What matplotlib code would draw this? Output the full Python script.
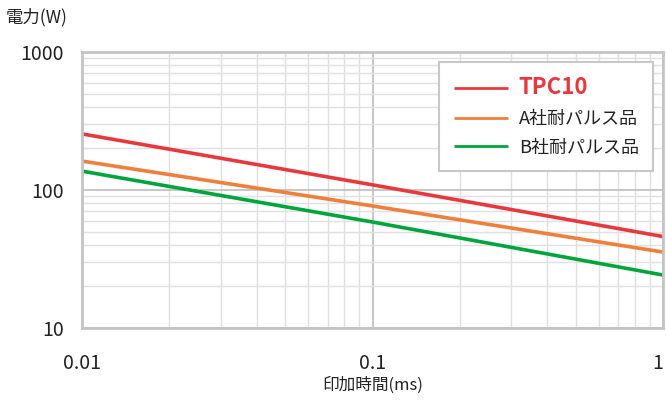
import matplotlib
matplotlib.use("Agg")
import matplotlib.pyplot as plt
from matplotlib.ticker import FixedLocator, NullFormatter, LogLocator

plt.rcParams['font.family'] = ['Noto Sans CJK JP', 'DejaVu Sans']

# datos
t_ms = [0.01, 0.1, 1]
p_tpc10 = [255, 109, 46]
p_a = [162, 76.6, 35.5]
p_b = [137, 58.6, 24.2]

nombres = ["TPC10", "A社耐パルス品", "B社耐パルス品"]
colores = ["#e8383d", "#f07f3c", "#00a63c"]

fig = plt.figure(figsize=(6.66, 4), dpi=100)
ax = fig.add_axes([82/666, 72/400, 581/666, 276/400])

for y, nom, c in zip([p_tpc10, p_a, p_b], nombres, colores):
    ax.plot(t_ms, y, color=c, lw=2.6, label=nom, solid_capstyle="butt")

ax.set_xscale("log")
ax.set_yscale("log")
ax.set_xlim(0.01, 1)
ax.set_ylim(10, 1000)

#### grilla
ax.xaxis.set_major_locator(FixedLocator([0.01, 0.1, 1]))
ax.yaxis.set_major_locator(FixedLocator([10, 100, 1000]))
ax.xaxis.set_minor_locator(LogLocator(base=10, subs=range(2, 10)))
ax.yaxis.set_minor_locator(LogLocator(base=10, subs=range(2, 10)))
ax.xaxis.set_minor_formatter(NullFormatter())
ax.yaxis.set_minor_formatter(NullFormatter())
ax.set_xticklabels(["0.01", "0.1", "1"])
ax.set_yticklabels(["10", "100", "1000"])
ax.get_xticklabels()[-1].set_horizontalalignment("right")
ax.grid(True, which="minor", color="#e0e0e0", lw=1)
ax.grid(True, which="major", color="#bdbdbd", lw=1.2)
ax.set_axisbelow(True)
ax.tick_params(which="both", length=0)
ax.tick_params(axis="x", pad=18, labelsize=14, colors="#222222")
ax.tick_params(axis="y", pad=13, labelsize=14, colors="#222222")
for s in ax.spines.values():
    s.set_color("#c4c4c4")
    s.set_linewidth(2)

ax.set_xlabel("印加時間(ms)", fontsize=12, color="#222222", labelpad=2)
fig.text(6/666, 1 - 17/400, "電力(W)", fontsize=12.5, color="#222222", va="center")

leg = ax.legend(loc="upper right", bbox_to_anchor=(0.983, 0.965), fancybox=False,
                edgecolor="#c8c8c8", framealpha=1, fontsize=13, handlelength=3.0,
                handletextpad=0.6, borderpad=0.8, labelspacing=0.6, borderaxespad=0)
leg.get_frame().set_linewidth(1.5)
txts = leg.get_texts()
txts[0].set_color(colores[0])
txts[0].set_fontweight("bold")
txts[0].set_fontsize(16)
for tx in txts[1:]:
    tx.set_color("#222222")
for ln in leg.get_lines():
    ln.set_linewidth(2)

fig.savefig("out.png", dpi=100)
